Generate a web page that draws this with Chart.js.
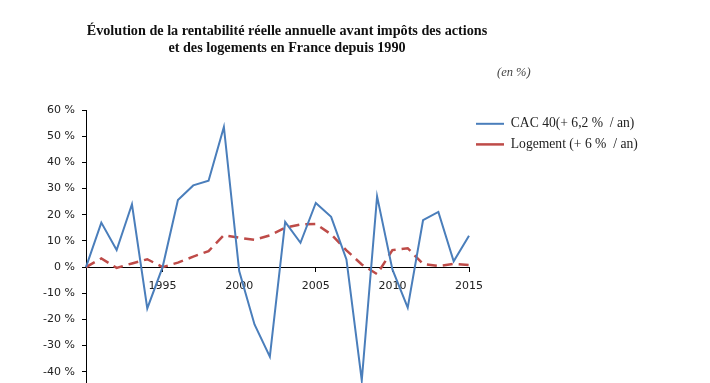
<!DOCTYPE html>
<html>
<head>
<meta charset="utf-8">
<script src="https://cdn.jsdelivr.net/npm/chart.js@4/dist/chart.umd.min.js"></script>
<style>
  html, body { margin: 0; padding: 0; background: #fff; overflow: hidden; width: 710px; height: 383px; }
  #wrap { position: relative; width: 710px; height: 383px; }
  canvas { position: absolute; left: 0; top: 0; }
  .title { position: absolute; left: -13px; width: 600px; text-align: center; font-family: "Liberation Serif", serif; font-weight: bold; font-size: 14.2px; color: #111; white-space: nowrap; }
  .unit { position: absolute; left: 497px; top: 65px; font-family: "Liberation Serif", serif; font-style: italic; font-size: 12.5px; color: #444; white-space: nowrap; }
</style>
</head>
<body>
<div id="wrap">
  <canvas id="c" width="710" height="420"></canvas>
  <div class="title" style="top:22px;">Évolution de la rentabilité réelle annuelle avant impôts des actions</div>
  <div class="title" style="top:39px;">et des logements en France depuis 1990</div>
  <div class="unit">(en %)</div>
</div>
<script>
const years = [1990,1991,1992,1993,1994,1995,1996,1997,1998,1999,2000,2001,2002,2003,2004,2005,2006,2007,2008,2009,2010,2011,2012,2013,2014,2015];
const cac40 = [0,17,6.5,24,-15.8,0,25.6,31.2,33,53.5,-1.5,-21.9,-34.2,17.3,9.3,24.5,19.2,2.9,-43.3,27,-0.9,-15.5,17.9,21.1,2.2,12];
const logement = [0,3.3,-0.3,1.4,3,0,1.7,4,6.1,12.2,11.2,10.4,12.1,15,16.3,16.5,12.5,6.4,1,-2.7,6.5,7.2,1.2,0.4,1.2,0.8];
const seriesNames = ["CAC 40(+ 6,2 %  / an)", "Logement (+ 6 %  / an)"];
const yTicks = { min: -50, max: 60, step: 10 };

const legendWidthPlugin = {
  id: 'legendWidth',
  beforeLayout(chart) {
    const lg = chart.legend;
    if (lg && !lg._wfix) {
      const f = lg.fit;
      lg.fit = function() { f.call(this); this.width = 190; };
      lg._wfix = true;
    }
  }
};

new Chart(document.getElementById('c'), {
  type: 'line',
  data: {
    labels: years,
    datasets: [
      { label: seriesNames[0], data: cac40, borderColor: '#4A7EBB', backgroundColor: '#4A7EBB', borderWidth: 2, pointRadius: 0, tension: 0, fill: false },
      { label: seriesNames[1], data: logement, borderColor: '#BE4B48', backgroundColor: '#BE4B48', borderWidth: 2.5, borderDash: [10, 6], pointRadius: 0, tension: 0, fill: false }
    ]
  },
  plugins: [legendWidthPlugin],
  options: {
    responsive: false,
    animation: false,
    devicePixelRatio: 1,
    layout: { padding: { left: 26, top: 110, right: 51, bottom: 22 } },
    scales: {
      x: {
        type: 'category',
        offset: false,
        position: { y: 0 },
        border: { color: '#000', width: 1 },
        grid: {
          drawOnChartArea: false, drawTicks: true, tickLength: 4,
          color: ctx => (ctx.index % 5 === 0 && ctx.index > 0) ? '#000' : 'rgba(0,0,0,0)'
        },
        ticks: {
          autoSkip: false, maxRotation: 0, padding: 8,
          color: '#222', font: { family: 'DejaVu Sans', size: 11 },
          callback: function(v, i) { const y = years[i]; return (y % 5 === 0 && y !== 1990) ? String(y) : ''; }
        }
      },
      y: {
        min: yTicks.min, max: yTicks.max,
        border: { color: '#000', width: 1 },
        grid: { drawOnChartArea: false, drawTicks: true, tickLength: 4, color: '#000' },
        ticks: { stepSize: yTicks.step, padding: 7, color: '#222', font: { family: 'DejaVu Sans', size: 11 }, callback: v => v + ' %' },
        afterFit: s => { s.width = 60; }
      }
    },
    plugins: {
      legend: {
        position: 'right', align: 'start',
        labels: { usePointStyle: true, pointStyle: 'line', pointStyleWidth: 28, padding: 7, color: '#222', font: { family: 'Liberation Serif', size: 13.6 } }
      },
      title: { display: false },
      tooltip: { enabled: false }
    }
  }
});
</script>
</body>
</html>
